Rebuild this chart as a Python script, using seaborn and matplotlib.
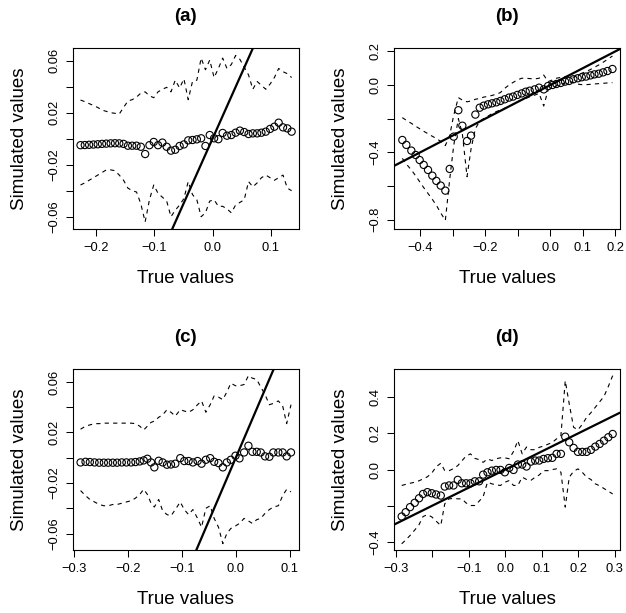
import matplotlib
matplotlib.use("Agg")
import matplotlib.pyplot as plt
import pandas as pd
import seaborn as sns

titles = ["(a)", "(b)", "(c)", "(d)"]
x_label = "True values"
y_label = "Simulated values"

# ---------------- panel (a) ----------------
a_x = [-0.2275, -0.2201, -0.2127, -0.2052, -0.1978, -0.1904, -0.1830, -0.1755, -0.1681, -0.1607,
       -0.1533, -0.1458, -0.1384, -0.1310, -0.1236, -0.1161, -0.1087, -0.1013, -0.0939, -0.0864,
       -0.0790, -0.0716, -0.0642, -0.0567, -0.0493, -0.0419, -0.0345, -0.0270, -0.0196, -0.0122,
       -0.0048, 0.0027, 0.0101, 0.0175, 0.0249, 0.0324, 0.0398, 0.0472, 0.0546, 0.0621,
       0.0695, 0.0769, 0.0843, 0.0918, 0.0992, 0.1066, 0.1140, 0.1215, 0.1289, 0.1363]
a_pts = [-0.0050, -0.0049, -0.0047, -0.0045, -0.0043, -0.0040, -0.0038, -0.0036, -0.0035, -0.0036,
         -0.0040, -0.0054, -0.0054, -0.0054, -0.0062, -0.0118, -0.0050, -0.0025, -0.0050, -0.0030,
         -0.0062, -0.0092, -0.0085, -0.0056, -0.0044, -0.0013, -0.0010, -0.0005, 0.0003, -0.0056,
         0.0028, 0.0003, -0.0004, 0.0044, 0.0023, 0.0028, 0.0046, 0.0062, 0.0051, 0.0036,
         0.0041, 0.0041, 0.0046, 0.0054, 0.0075, 0.0092, 0.0123, 0.0087, 0.0079, 0.0054]
a_hi = [0.0297, 0.0285, 0.0270, 0.0255, 0.0240, 0.0220, 0.0210, 0.0200, 0.0195, 0.0190,
        0.0240, 0.0290, 0.0300, 0.0320, 0.0350, 0.0360, 0.0330, 0.0315, 0.0360, 0.0380,
        0.0395, 0.0360, 0.0450, 0.0390, 0.0460, 0.0300, 0.0440, 0.0450, 0.0620, 0.0530,
        0.0605, 0.0470, 0.0540, 0.0620, 0.0540, 0.0570, 0.0640, 0.0610, 0.0550, 0.0490,
        0.0380, 0.0440, 0.0410, 0.0380, 0.0420, 0.0470, 0.0540, 0.0515, 0.0500, 0.0470]
a_lo = [-0.0356, -0.0340, -0.0320, -0.0300, -0.0280, -0.0260, -0.0240, -0.0240, -0.0246, -0.0280,
        -0.0320, -0.0380, -0.0400, -0.0410, -0.0500, -0.0640, -0.0470, -0.0356, -0.0420, -0.0450,
        -0.0480, -0.0600, -0.0550, -0.0510, -0.0460, -0.0330, -0.0430, -0.0470, -0.0600, -0.0570,
        -0.0480, -0.0470, -0.0520, -0.0520, -0.0540, -0.0570, -0.0510, -0.0490, -0.0470, -0.0330,
        -0.0370, -0.0340, -0.0300, -0.0280, -0.0300, -0.0320, -0.0300, -0.0280, -0.0380, -0.0400]

# ---------------- panel (b) ----------------
b_x = [-0.4554, -0.4431, -0.4277, -0.4144, -0.4021, -0.3897, -0.3764, -0.3631, -0.3508, -0.3374,
       -0.3231, -0.3097, -0.2974, -0.2831, -0.2708, -0.2564, -0.2441, -0.2308, -0.2174, -0.2051,
       -0.1918, -0.1795, -0.1662, -0.1538, -0.1405, -0.1272, -0.1149, -0.1015, -0.0882, -0.0759,
       -0.0636, -0.0482, -0.0349, -0.0205, -0.0072, 0.0062, 0.0185, 0.0318, 0.0451, 0.0574,
       0.0708, 0.0841, 0.0964, 0.1097, 0.1231, 0.1354, 0.1487, 0.1621, 0.1754, 0.1908]
b_pts = [-0.327, -0.356, -0.390, -0.416, -0.446, -0.475, -0.505, -0.539, -0.570, -0.598,
         -0.628, -0.499, -0.307, -0.150, -0.242, -0.333, -0.301, -0.176, -0.135, -0.123,
         -0.115, -0.109, -0.103, -0.095, -0.085, -0.075, -0.069, -0.059, -0.050, -0.040,
         -0.034, -0.026, -0.016, -0.026, -0.006, 0.000, 0.006, 0.012, 0.020, 0.024,
         0.034, 0.040, 0.046, 0.050, 0.057, 0.063, 0.067, 0.075, 0.083, 0.095]
b_hi = [-0.194, -0.210, -0.228, -0.245, -0.260, -0.275, -0.290, -0.305, -0.318, -0.335,
        -0.360, -0.300, -0.180, -0.075, -0.090, -0.100, -0.095, -0.085, -0.080, -0.072,
        -0.068, -0.062, -0.055, -0.045, -0.020, 0.000, 0.015, 0.030, 0.040, 0.040,
        0.038, 0.036, 0.040, 0.059, 0.020, 0.030, 0.040, 0.045, 0.050, 0.052,
        0.046, 0.060, 0.070, 0.079, 0.092, 0.105, 0.119, 0.135, 0.152, 0.172]
b_lo = [-0.436, -0.470, -0.505, -0.540, -0.575, -0.610, -0.645, -0.680, -0.715, -0.760,
        -0.805, -0.560, -0.360, -0.200, -0.290, -0.545, -0.380, -0.260, -0.215, -0.200,
        -0.185, -0.170, -0.158, -0.148, -0.138, -0.128, -0.115, -0.100, -0.090, -0.080,
        -0.070, -0.060, -0.050, -0.125, -0.030, -0.020, -0.005, 0.005, 0.012, 0.018,
        0.015, 0.005, 0.002, 0.002, 0.004, 0.006, 0.008, 0.010, 0.012, 0.014]

# ---------------- panel (c) ----------------
c_x = [-0.2874, -0.2782, -0.2702, -0.2615, -0.2529, -0.2443, -0.2363, -0.2277, -0.2197, -0.2111,
       -0.2025, -0.1938, -0.1858, -0.1778, -0.1705, -0.1637, -0.1569, -0.1508, -0.1428, -0.1354,
       -0.1274, -0.1200, -0.1120, -0.1028, -0.0954, -0.0874, -0.0794, -0.0708, -0.0634, -0.0554,
       -0.0474, -0.0400, -0.0320, -0.0240, -0.0166, -0.0092, -0.0006, 0.0068, 0.0154, 0.0234,
       0.0308, 0.0388, 0.0462, 0.0542, 0.0622, 0.0695, 0.0788, 0.0868, 0.0942, 0.1022]
c_pts = [-0.0037, -0.0032, -0.0034, -0.0037, -0.0039, -0.0039, -0.0039, -0.0039, -0.0039, -0.0037,
         -0.0037, -0.0037, -0.0034, -0.0029, -0.0021, -0.0008, -0.0037, -0.0076, -0.0024, -0.0037,
         -0.0055, -0.0053, -0.0047, -0.0003, -0.0026, -0.0026, -0.0037, -0.0026, -0.0047, -0.0016,
         -0.0003, -0.0032, -0.0042, -0.0076, -0.0037, -0.0016, 0.0016, -0.0005, 0.0042, 0.0095,
         0.0047, 0.0047, 0.0042, 0.0011, 0.0008, 0.0042, 0.0042, 0.0042, 0.0011, 0.0042]
c_hi = [0.0226, 0.0250, 0.0260, 0.0270, 0.0270, 0.0274, 0.0274, 0.0274, 0.0274, 0.0274,
        0.0274, 0.0274, 0.0270, 0.0250, 0.0220, 0.0250, 0.0280, 0.0290, 0.0320, 0.0340,
        0.0380, 0.0360, 0.0330, 0.0380, 0.0370, 0.0360, 0.0380, 0.0420, 0.0450, 0.0360,
        0.0420, 0.0490, 0.0480, 0.0460, 0.0520, 0.0590, 0.0570, 0.0570, 0.0580, 0.0650,
        0.0630, 0.0620, 0.0560, 0.0500, 0.0420, 0.0430, 0.0450, 0.0410, 0.0270, 0.0420]
c_lo = [-0.026, -0.030, -0.033, -0.035, -0.037, -0.038, -0.038, -0.037, -0.037, -0.036,
        -0.035, -0.034, -0.032, -0.029, -0.025, -0.029, -0.036, -0.039, -0.033, -0.042,
        -0.045, -0.046, -0.041, -0.035, -0.041, -0.045, -0.041, -0.048, -0.055, -0.040,
        -0.038, -0.048, -0.055, -0.068, -0.060, -0.056, -0.054, -0.052, -0.048, -0.050,
        -0.052, -0.049, -0.048, -0.044, -0.041, -0.039, -0.038, -0.030, -0.025, -0.027]

# ---------------- panel (d) ----------------
d_x = [-0.2839, -0.2729, -0.2610, -0.2482, -0.2363, -0.2253, -0.2134, -0.2015, -0.1896, -0.1767,
       -0.1658, -0.1538, -0.1419, -0.1300, -0.1190, -0.1071, -0.0952, -0.0833, -0.0714, -0.0604,
       -0.0485, -0.0366, -0.0247, -0.0128, -0.0009, 0.0110, 0.0229, 0.0348, 0.0467, 0.0586,
       0.0705, 0.0824, 0.0934, 0.1053, 0.1172, 0.1291, 0.1410, 0.1529, 0.1648, 0.1758,
       0.1877, 0.1996, 0.2115, 0.2234, 0.2353, 0.2473, 0.2592, 0.2711, 0.2830, 0.2949]
d_pts = [-0.260, -0.236, -0.208, -0.184, -0.159, -0.135, -0.125, -0.131, -0.138, -0.144,
         -0.094, -0.088, -0.088, -0.057, -0.076, -0.076, -0.076, -0.065, -0.065, -0.028,
         -0.015, -0.006, -0.002, -0.002, -0.015, 0.009, -0.002, 0.028, 0.028, 0.017,
         0.044, 0.050, 0.050, 0.059, 0.063, 0.065, 0.087, 0.087, 0.182, 0.151,
         0.120, 0.098, 0.098, 0.098, 0.109, 0.127, 0.142, 0.160, 0.179, 0.197]
d_hi = [-0.088, -0.082, -0.076, -0.070, -0.062, -0.052, -0.040, -0.020, 0.015, 0.035,
        -0.006, -0.006, 0.005, 0.022, 0.048, 0.075, 0.087, 0.062, 0.055, 0.040,
        0.059, 0.050, 0.060, 0.065, 0.065, 0.060, 0.100, 0.160, 0.087, 0.125,
        0.110, 0.110, 0.123, 0.130, 0.140, 0.150, 0.170, 0.188, 0.492, 0.363,
        0.234, 0.220, 0.250, 0.289, 0.315, 0.345, 0.375, 0.405, 0.460, 0.520]
d_lo = [-0.411, -0.390, -0.365, -0.335, -0.305, -0.260, -0.250, -0.262, -0.285, -0.310,
        -0.190, -0.162, -0.160, -0.162, -0.162, -0.185, -0.199, -0.199, -0.175, -0.150,
        -0.070, -0.079, -0.085, -0.088, -0.070, -0.061, -0.088, -0.088, -0.042, -0.055,
        -0.060, -0.042, -0.030, -0.006, -0.006, 0.000, 0.004, -0.015, -0.208, -0.042,
        -0.010, 0.004, -0.015, -0.042, -0.055, -0.079, -0.090, -0.105, -0.120, -0.135]

# ---------------- axes ticks / limits ----------------
a_xticks = [-0.2, -0.1, 0.0, 0.1]
a_xticklabels = ["\u22120.2", "\u22120.1", "0.0", "0.1"]
a_yticks = [-0.06, -0.04, -0.02, 0.0, 0.02, 0.04, 0.06]
a_yticklabels = ["\u22120.06", "", "\u22120.02", "", "0.02", "", "0.06"]
b_xticks = [-0.4, -0.3, -0.2, -0.1, 0.0, 0.1, 0.2]
b_xticklabels = ["\u22120.4", "", "\u22120.2", "", "0.0", "0.1", "0.2"]
b_yticks = [-0.8, -0.6, -0.4, -0.2, 0.0, 0.2]
b_yticklabels = ["\u22120.8", "", "\u22120.4", "", "0.0", "0.2"]
c_xticks = [-0.3, -0.2, -0.1, 0.0, 0.1]
c_xticklabels = ["\u22120.3", "\u22120.2", "\u22120.1", "0.0", "0.1"]
c_yticks = a_yticks
c_yticklabels = a_yticklabels
d_xticks = [-0.3, -0.2, -0.1, 0.0, 0.1, 0.2, 0.3]
d_xticklabels = ["\u22120.3", "", "\u22120.1", "0.0", "0.1", "0.2", "0.3"]
d_yticks = [-0.4, -0.2, 0.0, 0.2, 0.4]
d_yticklabels = ["\u22120.4", "", "0.0", "0.2", "0.4"]

a_lims = ((-0.241, 0.149), (-0.0697, 0.0695))
b_lims = ((-0.481, 0.214), (-0.858, 0.218))
c_lims = ((-0.302, 0.117), (-0.0734, 0.0700))
d_lims = ((-0.305, 0.315), (-0.448, 0.555))

sns.set_theme(style="ticks")
plt.rcParams["font.family"] = ["Liberation Sans", "DejaVu Sans"]
plt.rcParams["axes.unicode_minus"] = True
for key in ["text.color", "axes.labelcolor", "xtick.color", "ytick.color",
            "xtick.labelcolor", "ytick.labelcolor", "axes.edgecolor"]:
    plt.rcParams[key] = "black"

fig = plt.figure(figsize=(6.26, 6.13), dpi=100)
fig.patch.set_facecolor("white")

rects = [
    [0.1161, 0.6259, 0.3615, 0.2953],
    [0.6294, 0.6259, 0.3610, 0.2953],
    [0.1161, 0.1020, 0.3615, 0.2955],
    [0.6294, 0.1020, 0.3610, 0.2955],
]
panels = [
    (a_x, a_pts, a_hi, a_lo, a_xticks, a_xticklabels, a_yticks, a_yticklabels, a_lims),
    (b_x, b_pts, b_hi, b_lo, b_xticks, b_xticklabels, b_yticks, b_yticklabels, b_lims),
    (c_x, c_pts, c_hi, c_lo, c_xticks, c_xticklabels, c_yticks, c_yticklabels, c_lims),
    (d_x, d_pts, d_hi, d_lo, d_xticks, d_xticklabels, d_yticks, d_yticklabels, d_lims),
]

for rect, title, (xs, pts, hi, lo, xt, xtl, yt, ytl, lims) in zip(rects, titles, panels):
    ax = fig.add_axes(rect)
    ax.set_facecolor("white")
    df = pd.DataFrame({"x": xs, "pts": pts, "hi": hi, "lo": lo})
    for col in ["hi", "lo"]:
        sns.lineplot(data=df, x="x", y=col, ax=ax, sort=False, estimator=None,
                     color="black", linewidth=0.8, linestyle=(0, (3.8, 3.8)), legend=False)
    sns.scatterplot(data=df, x="x", y="pts", ax=ax, marker="o", s=27,
                    facecolor="none", edgecolor="black", linewidth=0.8, legend=False, zorder=3)
    ax.axline((0, 0), slope=1, color="black", linewidth=1.6, zorder=4)

    ax.set_xlim(*lims[0])
    ax.set_ylim(*lims[1])
    ax.set_xticks(xt)
    ax.set_xticklabels(xtl, fontsize=9.3, color="black")
    ax.set_yticks(yt)
    ax.set_yticklabels(ytl, fontsize=9.3, rotation=90, va="center", color="black")
    ax.tick_params(axis="both", length=4.8, width=0.75, color="black", direction="out")
    ax.tick_params(axis="x", pad=4)
    ax.tick_params(axis="y", pad=4)
    for sp in ax.spines.values():
        sp.set_visible(True)
        sp.set_color("black")
        sp.set_linewidth(0.8)

    ax.set_xlabel(x_label, fontsize=13.5, color="black")
    ax.set_ylabel(y_label, fontsize=13.5, color="black")
    ax.xaxis.set_label_coords(0.5, -0.269)
    ax.xaxis.label.set_va("center")
    ax.yaxis.set_label_coords(-0.235, 0.5)
    ax.yaxis.label.set_va("center")
    ax.yaxis.label.set_ha("center")
    ax.set_title(title, fontsize=13.5, fontweight="bold", y=1.175, va="center",
                 pad=0, color="black")

fig.savefig("out.png", dpi=100, facecolor="white")
